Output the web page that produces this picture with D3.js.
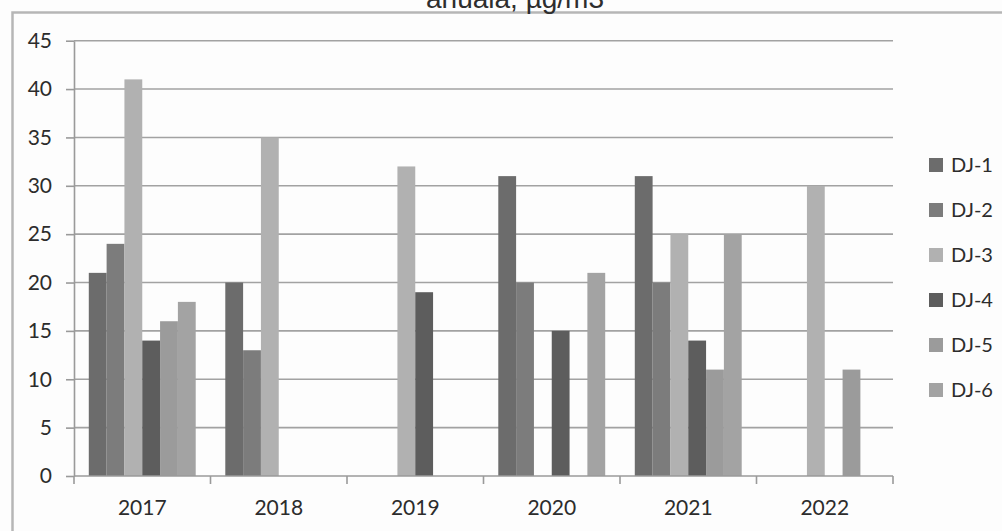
<!DOCTYPE html>
<html>
<head>
<meta charset="utf-8">
<script src="https://cdn.jsdelivr.net/npm/d3@7"></script>
<style>
  html, body { margin: 0; padding: 0; background: #fdfdfd; }
  svg { display: block; }
</style>
</head>
<body>
<svg id="chart" width="1002" height="531"></svg>
<script>
// Categories and series
const years = ["2017", "2018", "2019", "2020", "2021", "2022"];
const seriesNames = ["DJ-1", "DJ-2", "DJ-3", "DJ-4", "DJ-5", "DJ-6"];

// Annual values per station (null = no measurement)
const dj1 = [21, 20, null, 31, 31, null];
const dj2 = [24, 13, null, 20, 20, null];
const dj3 = [41, 35, 32, null, 25, 30];
const dj4 = [14, null, 19, 15, 14, null];
const dj5 = [16, null, null, null, 11, 11];
const dj6 = [18, null, null, 21, 25, null];

const yTicks = [0, 5, 10, 15, 20, 25, 30, 35, 40, 45];
const titleText = "anuala, µg/m3";

const seriesValues = [dj1, dj2, dj3, dj4, dj5, dj6];
const colors = ["#6c6c6c", "#7c7c7c", "#b1b1b1", "#5d5d5d", "#9b9b9b", "#a3a3a3"];

const svg = d3.select("#chart");
const font = "Lato, 'Open Sans', sans-serif";
const textColor = "#2c2c2c";

// Chart border (extends past the right and bottom edges)
svg.append("rect")
  .attr("x", 12.5).attr("y", 12.5)
  .attr("width", 1100).attr("height", 600)
  .attr("fill", "#fdfdfd")
  .attr("stroke", "#b6b6b6").attr("stroke-width", 2.5);

// Title (its upper part runs off the top edge)
svg.append("text")
  .attr("x", 515).attr("y", 7.5)
  .attr("text-anchor", "middle")
  .attr("font-family", "'Liberation Sans', Arial, sans-serif")
  .attr("font-size", 28)
  .attr("fill", "#2e2e2e")
  .text(titleText);

const plot = { left: 74, right: 893, top: 40.7, bottom: 476 };

const y = d3.scaleLinear().domain([0, 45]).range([plot.bottom, plot.top]);
const x0 = d3.scaleBand().domain(years).range([plot.left, plot.right]);
const x1 = d3.scaleBand().domain(seriesNames).range([0, x0.bandwidth()])
  .paddingInner(0).paddingOuter(0.83);
const color = d3.scaleOrdinal().domain(seriesNames).range(colors);

// Horizontal gridlines
svg.append("g")
  .selectAll("line")
  .data(yTicks.filter(d => d > 0))
  .join("line")
  .attr("x1", plot.left).attr("x2", plot.right)
  .attr("y1", d => y(d)).attr("y2", d => y(d))
  .attr("stroke", "#a2a2a2").attr("stroke-width", 1.6);

// Y axis
const yAxis = svg.append("g")
  .attr("transform", `translate(${plot.left},0)`)
  .call(d3.axisLeft(y).tickValues(yTicks).tickSize(8).tickPadding(14).tickSizeOuter(0));
yAxis.select(".domain").attr("stroke", "#9a9a9a").attr("stroke-width", 1.6);
yAxis.selectAll(".tick line").attr("stroke", "#9a9a9a").attr("stroke-width", 1.6);
yAxis.selectAll(".tick text")
  .attr("font-family", font).attr("font-size", 21).attr("fill", textColor);

// Bars
const rows = years.map((yr, i) => ({
  year: yr,
  values: seriesNames.map((s, j) => ({ key: s, value: seriesValues[j][i] }))
}));

svg.append("g")
  .selectAll("g")
  .data(rows)
  .join("g")
  .attr("transform", d => `translate(${x0(d.year)},0)`)
  .selectAll("rect")
  .data(d => d.values.filter(v => v.value != null))
  .join("rect")
  .attr("x", d => x1(d.key))
  .attr("width", x1.bandwidth())
  .attr("y", d => y(d.value))
  .attr("height", d => y(0) - y(d.value))
  .attr("fill", d => color(d.key));

// X axis with ticks between categories
const xAxisG = svg.append("g").attr("transform", `translate(0,${plot.bottom})`);
xAxisG.append("line")
  .attr("x1", plot.left).attr("x2", plot.right)
  .attr("stroke", "#9a9a9a").attr("stroke-width", 1.6);
const boundaries = years.map(d => x0(d)).concat([x0(years[years.length - 1]) + x0.bandwidth()]);
xAxisG.selectAll("line.tk")
  .data(boundaries)
  .join("line").attr("class", "tk")
  .attr("x1", d => d).attr("x2", d => d)
  .attr("y1", 0).attr("y2", 8)
  .attr("stroke", "#9a9a9a").attr("stroke-width", 1.6);
xAxisG.selectAll("text")
  .data(years)
  .join("text")
  .attr("x", d => x0(d) + x0.bandwidth() / 2)
  .attr("y", 39)
  .attr("text-anchor", "middle")
  .attr("font-family", font).attr("font-size", 21).attr("fill", textColor)
  .text(d => d);

// Legend
const legend = svg.append("g")
  .selectAll("g")
  .data(seriesNames)
  .join("g")
  .attr("transform", (d, i) => `translate(929,${165 + i * 45})`);
legend.append("rect")
  .attr("x", 0).attr("y", -7)
  .attr("width", 14).attr("height", 14)
  .attr("fill", d => color(d));
legend.append("text")
  .attr("x", 22).attr("y", 7)
  .attr("font-family", font).attr("font-size", 20).attr("fill", textColor)
  .text(d => d);
</script>
</body>
</html>
